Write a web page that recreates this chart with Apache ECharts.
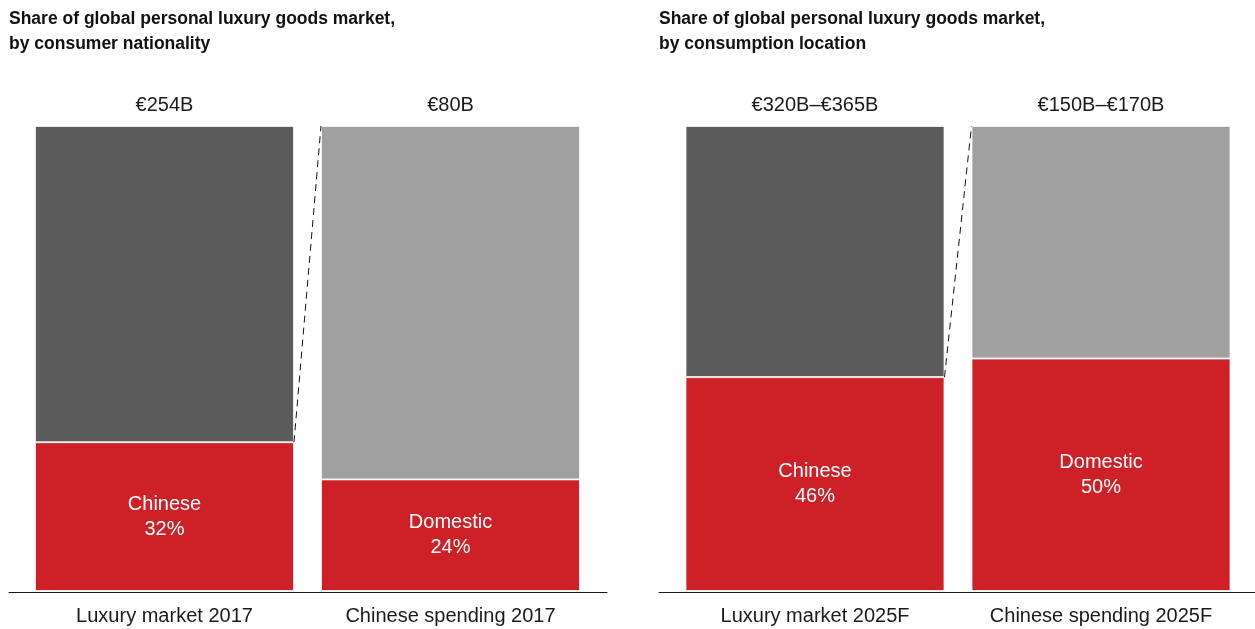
<!DOCTYPE html>
<html>
<head>
<meta charset="utf-8">
<script src="https://cdn.jsdelivr.net/npm/echarts@6/dist/echarts.min.js"></script>
<style>
  html, body { margin: 0; padding: 0; background: #fff; }
  #chart { width: 1255px; height: 629px; }
</style>
</head>
<body>
<div id="chart"></div>
<script>
// Panel headings
const panelTitles = [
  'Share of global personal luxury goods market,\nby consumer nationality',
  'Share of global personal luxury goods market,\nby consumption location'
];

// Left panel: 2017
const leftCategories = ['Luxury market 2017', 'Chinese spending 2017'];
const leftTotals = ['€254B', '€80B'];
const leftSegmentNames = ['Chinese', 'Domestic'];
const leftShares = [32, 24];

// Right panel: 2025 forecast
const rightCategories = ['Luxury market 2025F', 'Chinese spending 2025F'];
const rightTotals = ['€320B–€365B', '€150B–€170B'];
const rightSegmentNames = ['Chinese', 'Domestic'];
const rightShares = [46, 50];

const RED = '#cd2027';
const GREYS = ['#5b5b5b', '#a0a0a0'];
const BAR_W = 259;
const FONT = 'Liberation Sans, Arial, Helvetica, sans-serif';
const LABEL_SIZE = 20;

const chart = echarts.init(document.getElementById('chart'), null, { renderer: 'canvas' });

function barGrid(left) {
  return { left: left, width: 572, top: 126, bottom: 38, containLabel: false };
}
function baseGrid(left, width) {
  return { left: left, width: width, top: 126, bottom: 37, containLabel: false };
}

function panelSeries(gi, shares, names, totals) {
  const rest = shares.map(v => 100 - v);
  return [
    {
      type: 'bar', xAxisIndex: gi, yAxisIndex: gi, stack: 's' + gi,
      barWidth: BAR_W,
      data: shares,
      itemStyle: { color: RED, borderColor: 'rgba(255,255,255,0.75)', borderWidth: 1 },
      label: {
        show: true, position: 'inside', color: '#fff',
        fontFamily: FONT, fontSize: LABEL_SIZE, lineHeight: 25,
        formatter: p => names[p.dataIndex] + '\n' + p.value + '%'
      },
      emphasis: { disabled: true }, silent: true
    },
    {
      type: 'bar', xAxisIndex: gi, yAxisIndex: gi, stack: 's' + gi,
      barWidth: BAR_W,
      data: rest.map((v, i) => ({ value: v, itemStyle: { color: GREYS[i] } })),
      itemStyle: { borderColor: 'rgba(255,255,255,0.75)', borderWidth: 1 },
      label: {
        show: true, position: 'top', distance: 11, color: '#1a1a1a',
        fontFamily: FONT, fontSize: LABEL_SIZE,
        formatter: p => totals[p.dataIndex]
      },
      emphasis: { disabled: true }, silent: true
    },
    {
      // dashed connector from the first bar's segment top to the second bar's top
      type: 'custom', xAxisIndex: gi, yAxisIndex: gi, z: 5, silent: true,
      data: [[0, shares[0], 1, 100]],
      renderItem: (params, api) => {
        const a = api.coord([api.value(0), api.value(1)]);
        const b = api.coord([api.value(2), api.value(3)]);
        return {
          type: 'line',
          shape: { x1: a[0] + BAR_W / 2, y1: a[1], x2: b[0] - BAR_W / 2, y2: b[1] },
          style: { stroke: '#111', lineWidth: 1, lineDash: [7, 5] }
        };
      }
    }
  ];
}

function catAxis(gi, cats) {
  return {
    type: 'category', gridIndex: gi, data: cats,
    axisLine: { show: false }, axisTick: { show: false },
    axisLabel: {
      color: '#1a1a1a', fontFamily: FONT, fontSize: LABEL_SIZE, margin: 15,
      interval: 0, showMinLabel: true, showMaxLabel: true, hideOverlap: false
    }
  };
}
function baseAxis(gi) {
  return {
    type: 'value', gridIndex: gi, min: 0, max: 1,
    axisLine: { show: true, onZero: false, lineStyle: { color: '#1a1a1a', width: 1 } },
    axisTick: { show: false }, axisLabel: { show: false }, splitLine: { show: false }
  };
}
function hiddenY(gi) {
  return { type: 'value', gridIndex: gi, min: 0, max: 100, show: false };
}

const titleStyle = { fontFamily: FONT, fontWeight: 'bold', fontSize: 17.5, lineHeight: 25, color: '#111' };

const option = {
  animation: false,
  backgroundColor: '#fff',
  title: [
    { text: panelTitles[0], left: 4, top: 2, textStyle: titleStyle },
    { text: panelTitles[1], left: 654, top: 2, textStyle: titleStyle }
  ],
  grid: [barGrid(21.5), barGrid(672), baseGrid(9, 598), baseGrid(659, 596)],
  xAxis: [catAxis(0, leftCategories), catAxis(1, rightCategories), baseAxis(2), baseAxis(3)],
  yAxis: [hiddenY(0), hiddenY(1), hiddenY(2), hiddenY(3)],
  series: [
    ...panelSeries(0, leftShares, leftSegmentNames, leftTotals),
    ...panelSeries(1, rightShares, rightSegmentNames, rightTotals)
  ]
};

chart.setOption(option);
</script>
</body>
</html>
